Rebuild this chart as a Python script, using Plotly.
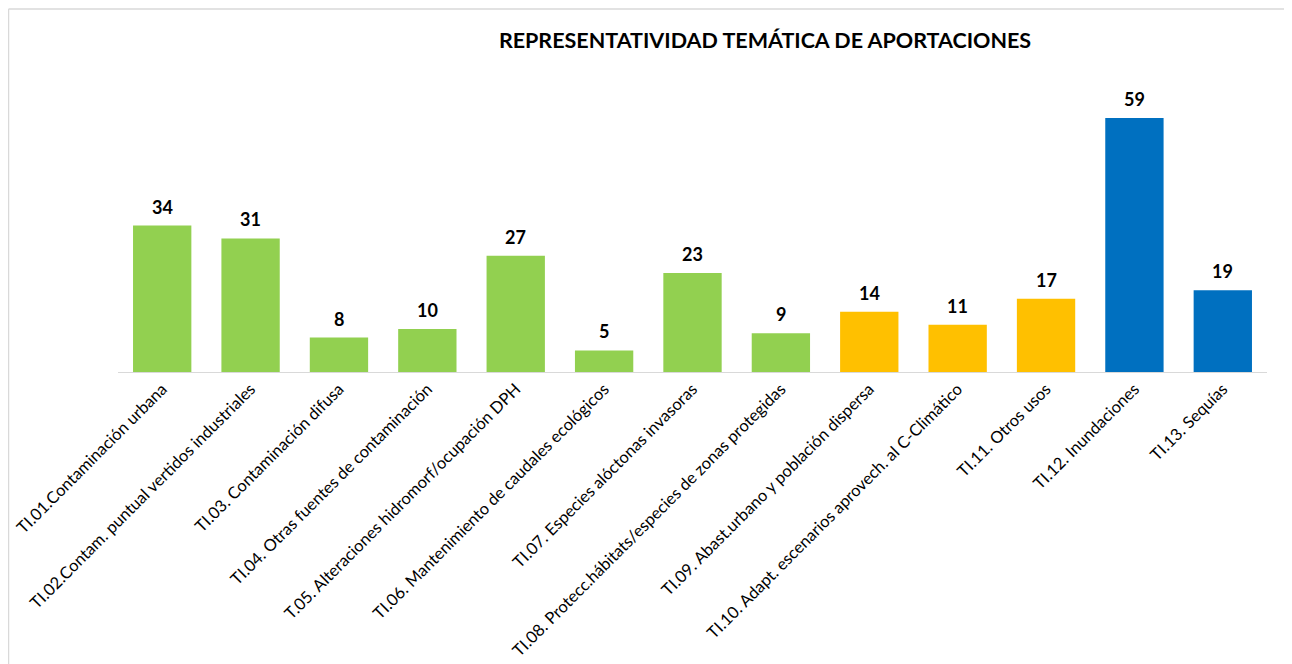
import plotly.graph_objects as go

categories = [
    "TI.01.Contaminación urbana",
    "TI.02.Contam. puntual vertidos industriales",
    "TI.03. Contaminación difusa",
    "TI.04. Otras fuentes de contaminación",
    "T.05. Alteraciones hidromorf/ocupación DPH",
    "TI.06. Mantenimiento de caudales ecológicos",
    "TI.07. Especies alóctonas invasoras",
    "TI.08. Protecc.hábitats/especies de zonas protegidas",
    "TI.09. Abast.urbano y población dispersa",
    "TI.10. Adapt. escenarios aprovech. al C-Climático",
    "TI.11. Otros usos",
    "TI.12. Inundaciones",
    "TI.13. Sequías",
]
values = [34, 31, 8, 10, 27, 5, 23, 9, 14, 11, 17, 59, 19]
bar_colors = ["#92D050"] * 8 + ["#FFC000"] * 3 + ["#0070C0"] * 2

FONT = "Lato, 'Open Sans', sans-serif"

# figure is placed at (8, 8) in the page by the default body margin
W, H = 1284, 656
L, R, T, B = 110, 25, 72, 292
PW, PH = W - L - R, H - T - B

fig = go.Figure(
    go.Bar(
        x=categories,
        y=values,
        marker=dict(color=bar_colors, line=dict(width=0)),
        hoverinfo="x+y",
    )
)

for c, v in zip(categories, values):
    fig.add_annotation(
        x=c, y=v, xref="x", yref="y",
        text=f"<b>{v}</b>",
        showarrow=False,
        yanchor="bottom",
        yshift=6,
        font=dict(family=FONT, size=18, color="#000000"),
    )

fig.update_layout(
    width=W,
    height=H,
    margin=dict(l=L, r=R, t=T, b=B, autoexpand=False),
    paper_bgcolor="white",
    plot_bgcolor="white",
    bargap=0.34,
    showlegend=False,
    title=dict(
        text="<b>REPRESENTATIVIDAD TEMÁTICA DE APORTACIONES</b>",
        x=757 / W,
        xanchor="center",
        y=1 - 32 / H,
        yanchor="middle",
        font=dict(family=FONT, size=21.5, color="#000000"),
    ),
    xaxis=dict(
        tickangle=-45,
        showline=True,
        linecolor="#D9D9D9",
        linewidth=1,
        ticks="",
        showgrid=False,
        automargin=False,
        tickfont=dict(family=FONT, size=16.5, color="#000000"),
    ),
    yaxis=dict(
        range=[0, 67.8],
        visible=False,
        showgrid=False,
        zeroline=False,
    ),
    shapes=[
        dict(type="line", xref="paper", yref="paper",
             x0=(0.5 - L) / PW, x1=(1280 - L) / PW,
             y0=(H - B - 1) / PH, y1=(H - B - 1) / PH,
             line=dict(color="#D9D9D9", width=1.5)),
        dict(type="line", xref="paper", yref="paper",
             x0=(0.5 - L) / PW, x1=(0.5 - L) / PW,
             y0=(H - B - 1) / PH, y1=-B / PH,
             line=dict(color="#D9D9D9", width=1.5)),
    ],
)

fig.write_html("out.html")
